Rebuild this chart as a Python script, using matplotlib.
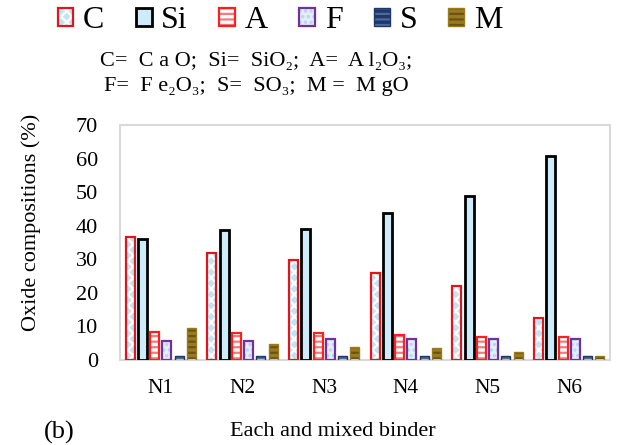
import matplotlib
matplotlib.use("Agg")
import matplotlib.pyplot as plt
import numpy as np
from matplotlib.patches import Patch
from matplotlib.legend_handler import HandlerTuple

plt.rcParams['font.family'] = ['Liberation Serif', 'DejaVu Serif']
plt.rcParams['hatch.linewidth'] = 1.6

binders = ["N1", "N2", "N3", "N4", "N5", "N6"]
series_names = ["C", "Si", "A", "F", "S", "M"]
C_vals = [36.6, 31.9, 29.7, 26.0, 21.9, 12.5]
Si_vals = [36.1, 38.6, 39.1, 43.7, 48.9, 60.8]
A_vals = [8.4, 7.9, 7.9, 7.3, 6.8, 6.8]
F_vals = [5.6, 5.6, 6.2, 6.2, 6.2, 6.2]
S_vals = [1.2, 1.2, 1.2, 1.2, 1.2, 1.2]
M_vals = [9.5, 4.8, 3.8, 3.6, 2.4, 1.2]
yticks = [0, 10, 20, 30, 40, 50, 60, 70]

values = [C_vals, Si_vals, A_vals, F_vals, S_vals, M_vals]
# (face, hatch, hatch colour, edge colour, edge width)
styles = [
    ('#bfe4f6', 'xxx', 'white', '#e3141b', 1.6),
    ('#cdebf8', '', 'white', 'black', 2.0),
    ('white', '---', '#f47c7c', '#ff1f1f', 1.6),
    ('#e4eef8', '...', '#b8d4ee', '#7030a0', 1.6),
    ('#1f3864', '---', '#4a6aa0', '#1f3864', 1.0),
    ('#9a7a20', '---', '#6b5412', '#9a7a20', 1.0),
]

fig = plt.figure(figsize=(6.22, 4.45), dpi=100)
ax = fig.add_axes([120/622, 85/445, 490/622, 235/445])

x = np.arange(len(binders))
width = 0.11
step = 0.15
for i, (vals, st) in enumerate(zip(values, styles)):
    face, hatch, hcol, ecol, lw = st
    pos = x + (i - 2.5) * step
    ax.bar(pos, vals, width, color=face, hatch=hatch, edgecolor=hcol, linewidth=0, zorder=2)
    ax.bar(pos, vals, width, fill=False, edgecolor=ecol, linewidth=lw, zorder=3)

ax.set_xlim(-0.5, 5.5)
ax.set_ylim(0, 70)
ax.set_yticks(yticks)
ax.set_xticks(x)
ax.set_xticklabels(binders)
ax.tick_params(axis='y', length=0, pad=16, labelsize=16)
ax.tick_params(axis='x', length=0, pad=14, labelsize=15.5)
for sp in ax.spines.values():
    sp.set_color('#d9d9d9')
    sp.set_linewidth(1.5)

fig.text(31/622, 1 - 222/445, "Oxide compositions (%)", rotation=90,
         ha='center', va='center', fontsize=16)
fig.text(333/622, 1 - 432/445, "Each and mixed binder", ha='center', va='center', fontsize=16)
fig.text(59/622, 1 - 432/445, "(b)", ha='center', va='center', fontsize=19)

fig.text(256/622, 1 - 61/445, "C=  C a O;  Si=  SiO₂;  A=  A l₂O₃;", ha='center', va='center', fontsize=16)
fig.text(256/622, 1 - 86/445, "F=  F e₂O₃;  S=  SO₃;  M =  M gO", ha='center', va='center', fontsize=16)

handles = []
for name, st in zip(series_names, styles):
    face, hatch, hcol, ecol, lw = st
    p1 = Patch(facecolor=face, edgecolor=hcol, hatch=hatch, linewidth=0)
    p2 = Patch(fill=False, edgecolor=ecol, linewidth=lw)
    handles.append((p1, p2))
leg = fig.legend(handles=handles, labels=series_names, loc='center',
                 bbox_to_anchor=(280/622, 1 - 21/445), ncol=6,
                 handler_map={tuple: HandlerTuple(ndivide=1, pad=0)},
                 frameon=False, fontsize=23, handlelength=0.5, handleheight=0.5,
                 handletextpad=0.3, columnspacing=0.98, borderaxespad=0)

fig.savefig("out.png", dpi=100)
